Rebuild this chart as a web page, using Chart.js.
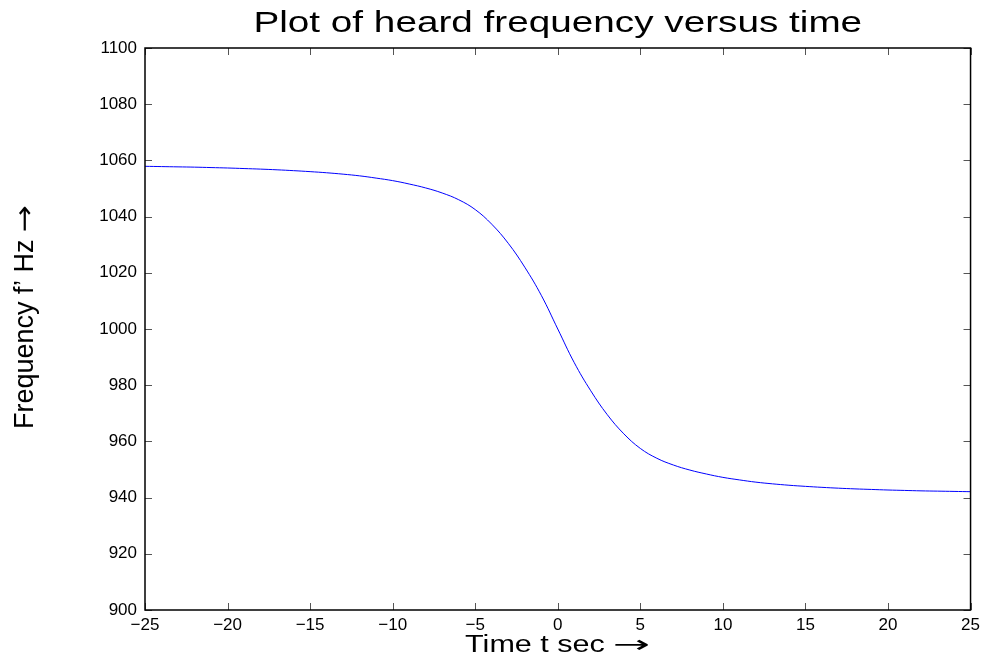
<!DOCTYPE html>
<html>
<head>
<meta charset="utf-8">
<script src="https://cdn.jsdelivr.net/npm/chart.js@4.4.1/dist/chart.umd.min.js"></script>
<style>
  html, body { margin: 0; padding: 0; background: #fff; }
  #wrap { width: 985px; height: 668px; }
</style>
</head>
<body>
<div id="wrap"><canvas id="freq-chart" width="985" height="668"></canvas></div>
<script>
// time in seconds, heard frequency in Hz
const timeSec = [-25, -24, -23, -22, -21, -20, -19, -18, -17, -16, -15, -14, -13, -12, -11, -10,
  -9, -8, -7, -6, -5, -4, -3, -2, -1, 0, 1, 2, 3, 4, 5, 6, 7, 8, 9, 10,
  11, 12, 13, 14, 15, 16, 17, 18, 19, 20, 21, 22, 23, 24, 25];
const freqHz = [1057.9, 1057.8, 1057.7, 1057.6, 1057.45, 1057.3, 1057.1, 1056.9, 1056.65, 1056.35, 1056.0,
  1055.6, 1055.1, 1054.5, 1053.7, 1052.8, 1051.6, 1050.2, 1048.4, 1046.0, 1042.5, 1037.3, 1030.5,
  1022.0, 1012.0, 1000.0, 988.0, 978.0, 969.5, 962.7, 957.5, 954.0, 951.6, 949.8, 948.4, 947.2,
  946.3, 945.5, 944.9, 944.4, 944.0, 943.65, 943.35, 943.1, 942.9, 942.7, 942.55, 942.4, 942.3, 942.2, 942.1];

const xTicks = [-25, -20, -15, -10, -5, 0, 5, 10, 15, 20, 25];
const yTicks = [900, 920, 940, 960, 980, 1000, 1020, 1040, 1060, 1080, 1100];

const titleText = 'Plot of heard frequency versus time';
const xLabel = 'Time t sec ';
const yLabel = 'Frequency f\u2019 Hz ';
const arrow = '\u2192';

const FONT = 'Liberation Sans, Arial, Helvetica, sans-serif';
const ARROW_FONT = 'DejaVu Sans, sans-serif';

// text with a long arrow, stretched sideways like the exported figure
function drawLabel(ctx, size, text, arrowScale, cx, cy, sx, sy, rot) {
  ctx.save();
  ctx.translate(cx, cy);
  if (rot) ctx.rotate(rot);
  ctx.scale(sx, sy);
  ctx.fillStyle = '#000';
  ctx.textBaseline = 'alphabetic';
  ctx.textAlign = 'left';
  ctx.font = size + 'px ' + FONT;
  const w1 = ctx.measureText(text).width;
  let w2 = 0;
  if (arrowScale) {
    ctx.font = size + 'px ' + ARROW_FONT;
    w2 = ctx.measureText(arrow).width * arrowScale;
  }
  const x0 = -(w1 + w2) / 2;
  ctx.font = size + 'px ' + FONT;
  ctx.fillText(text, x0, 0);
  if (arrowScale) {
    ctx.font = size + 'px ' + ARROW_FONT;
    ctx.save();
    ctx.translate(x0 + w1, 0);
    ctx.scale(arrowScale, 1);
    ctx.fillText(arrow, 0, 0);
    ctx.restore();
  }
  ctx.restore();
}

// matlab style box with inward ticks on all four sides, plus the titles
const boxPlugin = {
  id: 'boxPlugin',
  afterDraw(chart) {
    const { ctx, chartArea: a, scales } = chart;
    const len = 7;
    ctx.save();
    ctx.strokeStyle = '#555';
    ctx.lineWidth = 1;
    xTicks.forEach(v => {
      const px = Math.round(scales.x.getPixelForValue(v)) + 0.5;
      ctx.beginPath();
      ctx.moveTo(px, a.bottom); ctx.lineTo(px, a.bottom - len);
      ctx.moveTo(px, a.top); ctx.lineTo(px, a.top + len);
      ctx.stroke();
    });
    yTicks.forEach(v => {
      const py = Math.round(scales.y.getPixelForValue(v)) + 0.5;
      ctx.beginPath();
      ctx.moveTo(a.left, py); ctx.lineTo(a.left + len, py);
      ctx.moveTo(a.right, py); ctx.lineTo(a.right - len, py);
      ctx.stroke();
    });
    ctx.strokeStyle = '#000';
    ctx.lineWidth = 1.5;
    ctx.strokeRect(a.left, a.top, a.right - a.left, a.bottom - a.top);
    ctx.restore();

    const mid = (a.left + a.right) / 2;
    drawLabel(ctx, 30, titleText, 0, mid, 32, 1.29, 1, 0);
    drawLabel(ctx, 23.5, xLabel, 1.45, mid, 652, 1.3, 1, 0);
    drawLabel(ctx, 27, yLabel, 1.2, 33, 317, 1, 1, -Math.PI / 2);
  }
};

const ctx = document.getElementById('freq-chart').getContext('2d');
const chart = new Chart(ctx, {
  type: 'line',
  data: {
    datasets: [{
      data: timeSec.map((t, i) => ({ x: t, y: freqHz[i] })),
      borderColor: '#0000ff',
      borderWidth: 1,
      pointRadius: 0,
      tension: 0.4,
      fill: false
    }]
  },
  options: {
    responsive: false,
    animation: false,
    layout: { padding: { left: 0, right: 13, top: 48, bottom: 0 } },
    plugins: {
      legend: { display: false },
      tooltip: { enabled: false },
      title: { display: false }
    },
    scales: {
      x: {
        type: 'linear',
        min: -25,
        max: 25,
        afterBuildTicks: s => { s.ticks = xTicks.map(v => ({ value: v })); },
        afterFit: s => { s.height = 58; },
        grid: { display: false, drawTicks: false },
        border: { display: false },
        ticks: {
          color: '#000',
          padding: 5,
          font: { family: FONT, size: 17 },
          callback: v => String(v).replace('-', '\u2212')
        }
      },
      y: {
        type: 'linear',
        min: 900,
        max: 1100,
        afterBuildTicks: s => { s.ticks = yTicks.map(v => ({ value: v })); },
        afterFit: s => { s.width = 145; },
        grid: { display: false, drawTicks: false },
        border: { display: false },
        ticks: {
          color: '#000',
          padding: 8,
          font: { family: FONT, size: 17 },
          callback: v => String(v)
        }
      }
    }
  },
  plugins: [boxPlugin]
});
</script>
</body>
</html>
